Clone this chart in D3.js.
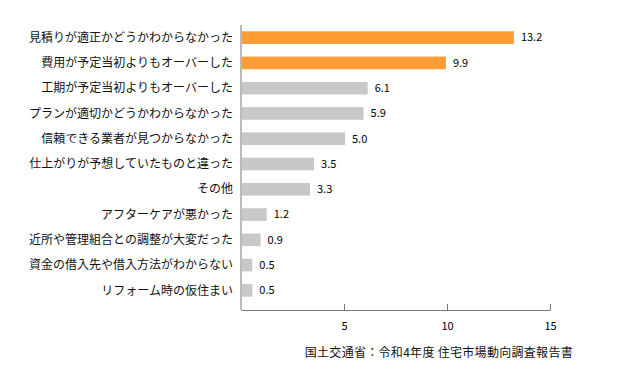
<!DOCTYPE html>
<html>
<head>
<meta charset="utf-8">
<script src="https://cdn.jsdelivr.net/npm/d3@7"></script>
<style>
  body { margin: 0; background: #fff; }
  svg { font-family: "Noto Sans CJK JP", "Noto Sans", sans-serif; }
</style>
</head>
<body>
<svg width="640" height="380"></svg>
<script>
var categories = [
  "見積りが適正かどうかわからなかった",
  "費用が予定当初よりもオーバーした",
  "工期が予定当初よりもオーバーした",
  "プランが適切かどうかわからなかった",
  "信頼できる業者が見つからなかった",
  "仕上がりが予想していたものと違った",
  "その他",
  "アフターケアが悪かった",
  "近所や管理組合との調整が大変だった",
  "資金の借入先や借入方法がわからない",
  "リフォーム時の仮住まい"
];
var values = [13.2, 9.9, 6.1, 5.9, 5.0, 3.5, 3.3, 1.2, 0.9, 0.5, 0.5];
var highlight = [true, true, false, false, false, false, false, false, false, false, false];
var xTicks = [5, 10, 15];
var source = "国土交通省：令和4年度 住宅市場動向調査報告書";

var svg = d3.select("svg");
var plotLeft = 241, plotRight = 550, plotTop = 25, plotBottom = 310;

var x = d3.scaleLinear().domain([0, 15]).range([plotLeft, plotRight]);
var y = d3.scaleBand().domain(categories).range([plotTop, plotBottom - 7]).paddingInner(0.5).paddingOuter(0.25);

// bars
svg.append("g").selectAll("rect")
  .data(values)
  .join("rect")
  .attr("x", x(0) + 1)
  .attr("y", function(d, i) { return y(categories[i]); })
  .attr("width", function(d) { return x(d) - x(0); })
  .attr("height", y.bandwidth())
  .attr("fill", function(d, i) { return highlight[i] ? "#ff9c33" : "#c8c8c8"; });

// value labels
svg.append("g").selectAll("text")
  .data(values)
  .join("text")
  .attr("x", function(d) { return x(d) + 8; })
  .attr("y", function(d, i) { return y(categories[i]) + y.bandwidth() / 2; })
  .attr("dy", "0.35em")
  .attr("font-size", 11)
  .attr("fill", "#000")
  .text(function(d) { return d.toFixed(1); });

// category labels
svg.append("g").selectAll("text")
  .data(categories)
  .join("text")
  .attr("x", plotLeft - 8)
  .attr("y", function(d) { return y(d) + y.bandwidth() / 2; })
  .attr("dy", "0.35em")
  .attr("text-anchor", "end")
  .attr("font-size", 12)
  .attr("fill", "#111")
  .text(function(d) { return d; });

// axes
var xAxis = svg.append("g")
  .attr("transform", "translate(0," + plotBottom + ")")
  .call(d3.axisBottom(x).tickValues(xTicks).tickSizeInner(-6).tickSizeOuter(0).tickPadding(12));
xAxis.select(".domain").attr("stroke", "#777");
xAxis.selectAll(".tick line").attr("stroke", "#777");
xAxis.selectAll(".tick text").attr("font-size", 11).attr("fill", "#000")
  .attr("font-family", "\"Noto Sans CJK JP\", sans-serif");

svg.append("line")
  .attr("x1", plotLeft).attr("x2", plotLeft)
  .attr("y1", plotTop).attr("y2", plotBottom)
  .attr("stroke", "#777");

// source
svg.append("text")
  .attr("x", 573)
  .attr("y", 353)
  .attr("dy", "0.35em")
  .attr("text-anchor", "end")
  .attr("font-size", 12)
  .attr("letter-spacing", 0.3)
  .attr("fill", "#111")
  .text(source);
</script>
</body>
</html>
